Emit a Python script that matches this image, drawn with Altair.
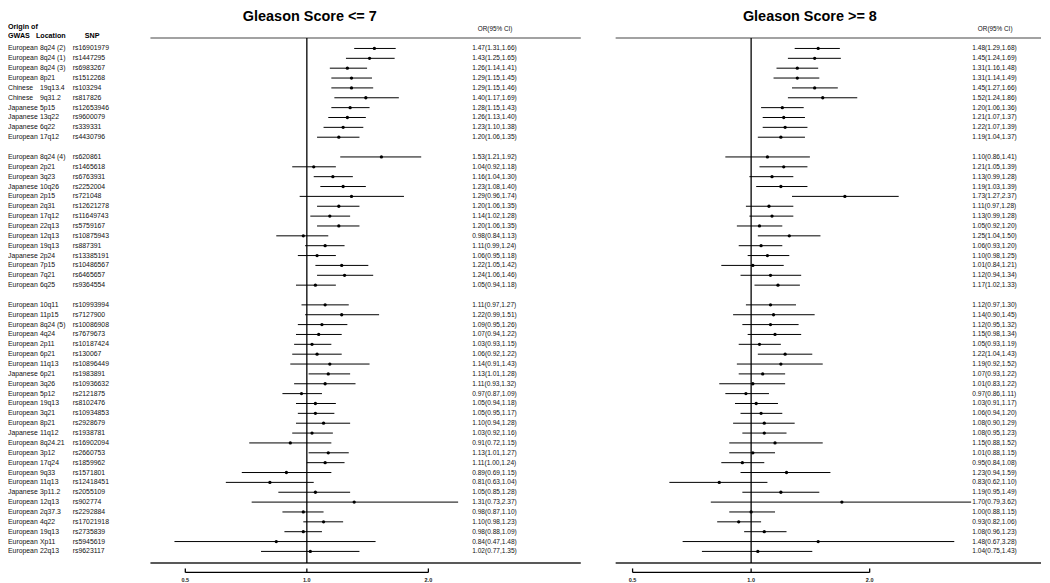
import altair as alt
import pandas as pd

FONT = "Liberation Sans"

# ---------------- data ----------------
group_sizes = [10, 14, 26]

origin = [
    "European", "European", "European", "European", "Chinese", "Chinese", "Japanese", "Japanese", "Japanese", "European",
    "European", "European", "European", "Japanese", "European", "European", "European", "European", "European", "European",
    "Japanese", "European", "European", "European",
    "European", "European", "European", "European", "European", "European", "European", "Japanese", "European", "European",
    "European", "European", "European", "Japanese", "European", "European", "European", "European", "European", "Japanese",
    "European", "European", "European", "European", "European", "European",
]
location = [
    "8q24 (2)", "8q24 (1)", "8q24 (3)", "8p21", "19q13.4", "9q31.2", "5p15", "13q22", "6q22", "17q12",
    "8q24 (4)", "2p21", "3q23", "10q26", "2p15", "2q31", "17q12", "22q13", "12q13", "19q13", "2p24", "7p15", "7q21", "6q25",
    "10q11", "11p15", "8q24 (5)", "4q24", "2p11", "6p21", "11q13", "6p21", "3q26", "5p12", "19q13", "3q21", "8p21",
    "11q12", "8q24.21", "3p12", "17q24", "9q33", "11q13", "3p11.2", "12q13", "2q37.3", "4q22", "19q13", "Xp11", "22q13",
]
snp = [
    "rs16901979", "rs1447295", "rs6983267", "rs1512268", "rs103294", "rs817826", "rs12653946", "rs9600079", "rs339331", "rs4430796",
    "rs620861", "rs1465618", "rs6763931", "rs2252004", "rs721048", "rs12621278", "rs11649743", "rs5759167", "rs10875943",
    "rs887391", "rs13385191", "rs10486567", "rs6465657", "rs9364554",
    "rs10993994", "rs7127900", "rs10086908", "rs7679673", "rs10187424", "rs130067", "rs10896449", "rs1983891", "rs10936632",
    "rs2121875", "rs8102476", "rs10934853", "rs2928679", "rs1938781", "rs16902094", "rs2660753", "rs1859962", "rs1571801",
    "rs12418451", "rs2055109", "rs902774", "rs2292884", "rs17021918", "rs2735839", "rs5945619", "rs9623117",
]

# Gleason Score <= 7
or_le7 = [1.47, 1.43, 1.26, 1.29, 1.29, 1.40, 1.28, 1.26, 1.23, 1.20,
          1.53, 1.04, 1.16, 1.23, 1.29, 1.20, 1.14, 1.20, 0.98, 1.11, 1.06, 1.22, 1.24, 1.05,
          1.11, 1.22, 1.09, 1.07, 1.03, 1.06, 1.14, 1.13, 1.11, 0.97, 1.05, 1.05, 1.10, 1.03, 0.91,
          1.13, 1.11, 0.89, 0.81, 1.05, 1.31, 0.98, 1.10, 0.98, 0.84, 1.02]
lo_le7 = [1.31, 1.25, 1.14, 1.15, 1.15, 1.17, 1.15, 1.13, 1.10, 1.06,
          1.21, 0.92, 1.04, 1.08, 0.96, 1.06, 1.02, 1.06, 0.84, 0.99, 0.95, 1.05, 1.06, 0.94,
          0.97, 0.99, 0.95, 0.94, 0.93, 0.92, 0.91, 1.01, 0.93, 0.87, 0.94, 0.95, 0.94, 0.92, 0.72,
          1.01, 1.00, 0.69, 0.63, 0.85, 0.73, 0.87, 0.98, 0.88, 0.47, 0.77]
hi_le7 = [1.66, 1.65, 1.41, 1.45, 1.46, 1.69, 1.43, 1.40, 1.38, 1.35,
          1.92, 1.18, 1.30, 1.40, 1.74, 1.35, 1.28, 1.35, 1.13, 1.24, 1.18, 1.42, 1.46, 1.18,
          1.27, 1.51, 1.26, 1.22, 1.15, 1.22, 1.43, 1.28, 1.32, 1.09, 1.18, 1.17, 1.28, 1.16, 1.15,
          1.27, 1.24, 1.15, 1.04, 1.28, 2.37, 1.10, 1.23, 1.09, 1.48, 1.35]

# Gleason Score >= 8
or_ge8 = [1.48, 1.45, 1.31, 1.31, 1.45, 1.52, 1.20, 1.21, 1.22, 1.19,
          1.10, 1.21, 1.13, 1.19, 1.73, 1.11, 1.13, 1.05, 1.25, 1.06, 1.10, 1.01, 1.12, 1.17,
          1.12, 1.14, 1.12, 1.15, 1.05, 1.22, 1.19, 1.07, 1.01, 0.97, 1.03, 1.06, 1.08, 1.08, 1.15,
          1.01, 0.95, 1.23, 0.83, 1.19, 1.70, 1.00, 0.93, 1.08, 1.48, 1.04]
lo_ge8 = [1.29, 1.24, 1.16, 1.14, 1.27, 1.24, 1.06, 1.07, 1.07, 1.04,
          0.86, 1.05, 0.99, 1.03, 1.27, 0.97, 0.99, 0.92, 1.04, 0.93, 0.98, 0.84, 0.94, 1.02,
          0.97, 0.90, 0.95, 0.98, 0.93, 1.04, 0.92, 0.93, 0.83, 0.86, 0.91, 0.94, 0.90, 0.95, 0.88,
          0.88, 0.84, 0.94, 0.62, 0.95, 0.79, 0.88, 0.82, 0.96, 0.67, 0.75]
hi_ge8 = [1.68, 1.69, 1.48, 1.49, 1.66, 1.86, 1.36, 1.37, 1.39, 1.37,
          1.41, 1.39, 1.28, 1.39, 2.37, 1.28, 1.28, 1.20, 1.50, 1.20, 1.25, 1.21, 1.34, 1.33,
          1.30, 1.45, 1.32, 1.34, 1.19, 1.43, 1.52, 1.22, 1.22, 1.11, 1.17, 1.20, 1.29, 1.23, 1.52,
          1.15, 1.08, 1.59, 1.10, 1.49, 3.62, 1.15, 1.06, 1.23, 3.28, 1.43]

tick_values = [0.5, 1.0, 2.0]
tick_labels = ["0.5", "1.0", "2.0"]

# ---------------- table ----------------
slots = []
s = 0
for g in group_sizes:
    slots.extend(range(s, s + g))
    s += g + 1


def fmt(o, l, h):
    return [f"{a:.2f}({b:.2f},{c:.2f})" for a, b, c in zip(o, l, h)]


df = pd.DataFrame({
    "slot": slots, "origin": origin, "location": location, "snp": snp,
    "or_le7": or_le7, "lo_le7": lo_le7, "hi_le7": hi_le7, "lab_le7": fmt(or_le7, lo_le7, hi_le7),
    "or_ge8": or_ge8, "lo_ge8": lo_ge8, "hi_ge8": hi_ge8, "lab_ge8": fmt(or_ge8, lo_ge8, hi_ge8),
})
ticks = pd.DataFrame({"t": tick_values, "lab": tick_labels})
axis_df = pd.DataFrame({"a": [tick_values[0]], "b": [tick_values[-1]]})
one = pd.DataFrame({"v": [1.0]})

# ---------------- layout ----------------
H = 574
ROW0 = 38.5
ROWH = 9.9
ys = alt.Scale(domain=[-ROW0 / ROWH, (H - ROW0) / ROWH], reverse=True, nice=False, zero=False)
Y = alt.Y("slot:Q", scale=ys, axis=None)

HDR_LINE = 28
BOT_LINE = 555
AX_LINE = 564.5


def forest(key, title, left, right, x05, x2, title_x, val_x):
    width = right - left
    ppd = (x2 - x05) / 2.0
    dom = [0.5 * 2 ** (-(x05 - left) / ppd), 2.0 * 2 ** ((right - x2) / ppd)]
    xs = alt.Scale(type="log", domain=dom, nice=False)

    base = alt.Chart(df)
    ci = base.mark_rule(color="black", strokeWidth=1).encode(
        x=alt.X(f"lo_{key}:Q", scale=xs, axis=None), x2=f"hi_{key}:Q", y=Y)
    dots = base.mark_circle(color="black", size=11, opacity=1).encode(
        x=alt.X(f"or_{key}:Q", scale=xs, axis=None), y=Y)
    vals = base.mark_text(align="left", baseline="middle", font=FONT, fontSize=6.6, color="#111").encode(
        x=alt.value(val_x), y=Y, text=f"lab_{key}:N")

    ref = alt.Chart(one).mark_rule(color="black", strokeWidth=1.3).encode(
        x=alt.X("v:Q", scale=xs, axis=None), y=alt.value(HDR_LINE), y2=alt.value(BOT_LINE))
    hline = alt.Chart(one).mark_rule(color="#444", strokeWidth=1).encode(
        x=alt.value(0), x2=alt.value(width), y=alt.value(HDR_LINE))
    bline = alt.Chart(one).mark_rule(color="#222", strokeWidth=1.6).encode(
        x=alt.value(0), x2=alt.value(width), y=alt.value(BOT_LINE))

    ax_line = alt.Chart(axis_df).mark_rule(color="black", strokeWidth=1.3).encode(
        x=alt.X("a:Q", scale=xs, axis=None), x2="b:Q", y=alt.value(AX_LINE))
    ax_ticks = alt.Chart(ticks).mark_rule(color="black", strokeWidth=1.3).encode(
        x=alt.X("t:Q", scale=xs, axis=None), y=alt.value(AX_LINE - 4), y2=alt.value(AX_LINE))
    ax_labs = alt.Chart(ticks).mark_text(font=FONT, fontSize=5.5, fontWeight="bold", baseline="middle",
                                         color="#222").encode(
        x=alt.X("t:Q", scale=xs, axis=None), y=alt.value(AX_LINE + 7.5), text="lab:N")

    ttl = alt.Chart(one).mark_text(text=title, font=FONT, fontSize=14.5, fontWeight="bold",
                                   align="center", baseline="top", color="black").encode(
        x=alt.value(title_x), y=alt.value(0))
    hdr = alt.Chart(one).mark_text(text="OR(95% CI)", font=FONT, fontSize=6.4, align="center",
                                   baseline="middle", color="#111").encode(
        x=alt.value(val_x + 23), y=alt.value(19))

    return alt.layer(hline, bline, ref, ci, dots, vals, ax_line, ax_ticks, ax_labs, ttl, hdr).properties(
        width=width, height=H)


# label table panel (page x 8 .. 150)
lab_base = alt.Chart(df)
col_origin = lab_base.mark_text(align="left", baseline="middle", font=FONT, fontSize=6.9, color="#111").encode(
    x=alt.value(0), y=Y, text="origin:N")
col_loc = lab_base.mark_text(align="left", baseline="middle", font=FONT, fontSize=6.9, color="#111").encode(
    x=alt.value(32), y=Y, text="location:N")
col_snp = lab_base.mark_text(align="left", baseline="middle", font=FONT, fontSize=6.9, color="#111").encode(
    x=alt.value(65), y=Y, text="snp:N")


def head(txt, x, y):
    return alt.Chart(one).mark_text(text=txt, align="left", baseline="middle", font=FONT, fontSize=7.2,
                                    fontWeight="bold", color="black").encode(x=alt.value(x), y=alt.value(y))


labels = alt.layer(
    col_origin, col_loc, col_snp,
    head("Origin of", 0, 17), head("GWAS", 0, 26), head("Location", 28, 26), head("SNP", 77, 26),
).properties(width=142, height=H)

left_panel = forest("le7", "Gleason Score <= 7", 150, 582, 185, 429, 160, 323)
right_panel = forest("ge8", "Gleason Score >= 8", 615, 1042, 632, 870, 195, 358)

chart = alt.hconcat(
    alt.hconcat(labels, left_panel, spacing=0),
    right_panel,
    spacing=33,
).properties(padding=0).configure_view(stroke=None)

chart.save("out.html", embed_options={"renderer": "svg", "actions": False})
